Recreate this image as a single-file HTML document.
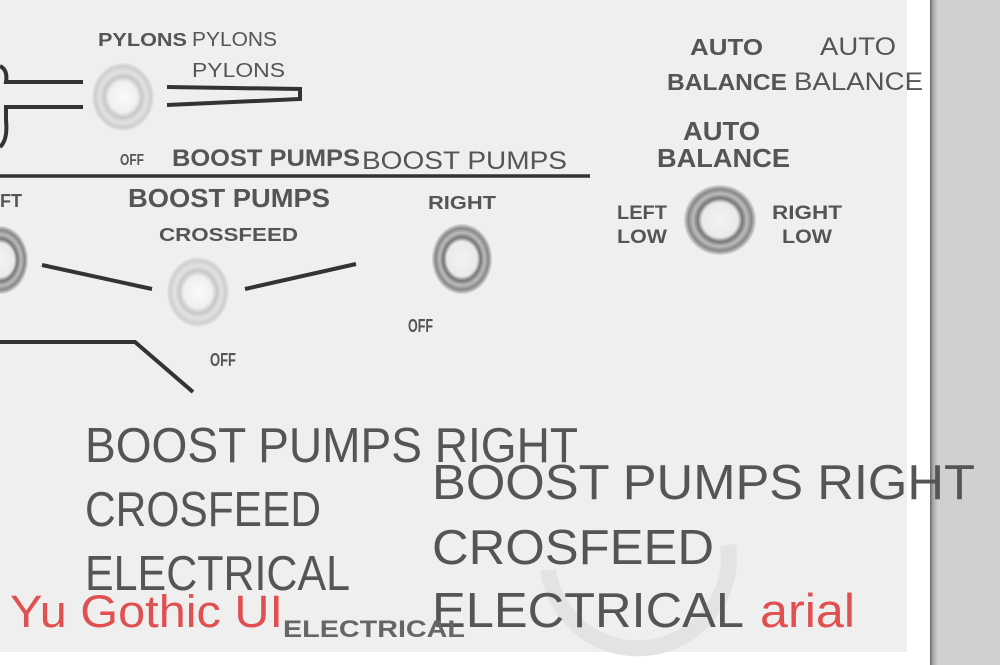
<!DOCTYPE html>
<html><head><meta charset="utf-8"><style>
html,body{margin:0;padding:0;width:1000px;height:665px;overflow:hidden;background:#fff}
svg{position:absolute;left:0;top:0}
</style></head><body>
<svg width="1000" height="665" viewBox="0 0 1000 665" xmlns="http://www.w3.org/2000/svg">
<defs>
<linearGradient id="edge" x1="0" x2="1"><stop offset="0" stop-color="#666"/><stop offset="0.4" stop-color="#aaa"/><stop offset="1" stop-color="#d0d0d0"/></linearGradient>
<radialGradient id="btn" cx="0.5" cy="0.5" r="0.5"><stop offset="0" stop-color="#fafafa"/><stop offset="0.45" stop-color="#f0f0f0"/><stop offset="0.6" stop-color="#c8c8c8"/><stop offset="0.75" stop-color="#e2e2e2"/><stop offset="0.9" stop-color="#cfcfcf"/><stop offset="1" stop-color="#e8e8e8"/></radialGradient>
<radialGradient id="btnd" cx="0.5" cy="0.5" r="0.5"><stop offset="0" stop-color="#f2f2f2"/><stop offset="0.5" stop-color="#eaeaea"/><stop offset="0.62" stop-color="#777"/><stop offset="0.75" stop-color="#bbb"/><stop offset="0.88" stop-color="#888"/><stop offset="1" stop-color="#dcdcdc"/></radialGradient>
</defs>
<rect x="0" y="0" width="907" height="652" fill="#efefef"/>
<rect x="930" y="0" width="70" height="665" fill="#d0d0d0"/>
<rect x="930" y="0" width="8" height="665" fill="url(#edge)"/>
<path d="M548 570 A88 88 0 0 0 728 545" fill="none" stroke="#e3e3e3" stroke-width="16"/>
<g stroke="#333" stroke-width="4" fill="none">
<path d="M0 66 Q8 70 6 82 L83 82"/>
<path d="M0 147 Q8 140 6 120 L6 107 L83 107"/>
<path d="M167 87 L300 89 L300 99 L167 105"/>
<path d="M0 176 L590 176" stroke-width="3.5"/>
<path d="M42 265 L152 289"/>
<path d="M245 289 L356 264"/>
<path d="M0 342 L135 342 L193 392"/>
</g>
<ellipse cx="123" cy="97" rx="31" ry="34" fill="url(#btn)"/>
<ellipse cx="198" cy="292" rx="31" ry="35" fill="url(#btn)"/>
<ellipse cx="462" cy="259" rx="30" ry="35" fill="url(#btnd)"/>
<ellipse cx="720" cy="220" rx="36" ry="35" fill="url(#btnd)"/>
<ellipse cx="0" cy="260" rx="28" ry="34" fill="url(#btnd)"/>
<g font-family="Liberation Sans, sans-serif" fill="#555" lengthAdjust="spacingAndGlyphs">
<text x="98" y="46" font-size="18" font-weight="bold" textLength="89" lengthAdjust="spacingAndGlyphs">PYLONS</text>
<text x="192" y="46" font-size="20" textLength="85" lengthAdjust="spacingAndGlyphs">PYLONS</text>
<text x="192" y="77" font-size="20" textLength="93" lengthAdjust="spacingAndGlyphs">PYLONS</text>
<text x="120" y="165" font-size="16" font-weight="bold" textLength="24" lengthAdjust="spacingAndGlyphs">OFF</text>
<text x="172" y="166" font-size="24" font-weight="bold" textLength="188" lengthAdjust="spacingAndGlyphs">BOOST PUMPS</text>
<text x="362" y="169" font-size="25" textLength="205" lengthAdjust="spacingAndGlyphs">BOOST PUMPS</text>
<text x="128" y="207" font-size="26" font-weight="bold" textLength="202" lengthAdjust="spacingAndGlyphs">BOOST PUMPS</text>
<text x="0" y="207" font-size="18" font-weight="bold">FT</text>
<text x="159" y="241" font-size="18" font-weight="bold" textLength="139" lengthAdjust="spacingAndGlyphs">CROSSFEED</text>
<text x="428" y="209" font-size="18" font-weight="bold" textLength="68" lengthAdjust="spacingAndGlyphs">RIGHT</text>
<text x="408" y="332" font-size="18" font-weight="bold" textLength="25" lengthAdjust="spacingAndGlyphs">OFF</text>
<text x="210" y="366" font-size="18" font-weight="bold" textLength="26" lengthAdjust="spacingAndGlyphs">OFF</text>
<text x="690" y="55" font-size="23" font-weight="bold" textLength="73" lengthAdjust="spacingAndGlyphs">AUTO</text>
<text x="667" y="90" font-size="23" font-weight="bold" textLength="120" lengthAdjust="spacingAndGlyphs">BALANCE</text>
<text x="820" y="55" font-size="25" textLength="76" lengthAdjust="spacingAndGlyphs">AUTO</text>
<text x="794" y="90" font-size="25" textLength="129" lengthAdjust="spacingAndGlyphs">BALANCE</text>
<text x="683" y="140" font-size="26" font-weight="bold" textLength="77" lengthAdjust="spacingAndGlyphs">AUTO</text>
<text x="657" y="167" font-size="26" font-weight="bold" textLength="133" lengthAdjust="spacingAndGlyphs">BALANCE</text>
<text x="617" y="219" font-size="19" font-weight="bold" textLength="50" lengthAdjust="spacingAndGlyphs">LEFT</text>
<text x="617" y="243" font-size="19" font-weight="bold" textLength="50" lengthAdjust="spacingAndGlyphs">LOW</text>
<text x="772" y="219" font-size="19" font-weight="bold" textLength="70" lengthAdjust="spacingAndGlyphs">RIGHT</text>
<text x="782" y="243" font-size="19" font-weight="bold" textLength="50" lengthAdjust="spacingAndGlyphs">LOW</text>
<text x="85" y="462" font-size="49" textLength="493" lengthAdjust="spacingAndGlyphs">BOOST PUMPS RIGHT</text>
<text x="85" y="526" font-size="49" textLength="236" lengthAdjust="spacingAndGlyphs">CROSFEED</text>
<text x="85" y="590" font-size="49" textLength="265" lengthAdjust="spacingAndGlyphs">ELECTRICAL</text>
<text x="432" y="499" font-size="49" textLength="543" lengthAdjust="spacingAndGlyphs">BOOST PUMPS RIGHT</text>
<text x="432" y="564" font-size="49" textLength="282" lengthAdjust="spacingAndGlyphs">CROSFEED</text>
<text x="432" y="627" font-size="49" textLength="312" lengthAdjust="spacingAndGlyphs">ELECTRICAL</text>
<text x="283" y="637" font-size="24" font-weight="bold" textLength="182" lengthAdjust="spacingAndGlyphs" fill="#666">ELECTRICAL</text>
<text x="10" y="627" font-size="45" fill="#e05050" textLength="273" lengthAdjust="spacingAndGlyphs">Yu Gothic UI</text>
<text x="760" y="627" font-size="47" fill="#e05050" textLength="95" lengthAdjust="spacingAndGlyphs">arial</text>
</g>
</svg>
</body></html>
